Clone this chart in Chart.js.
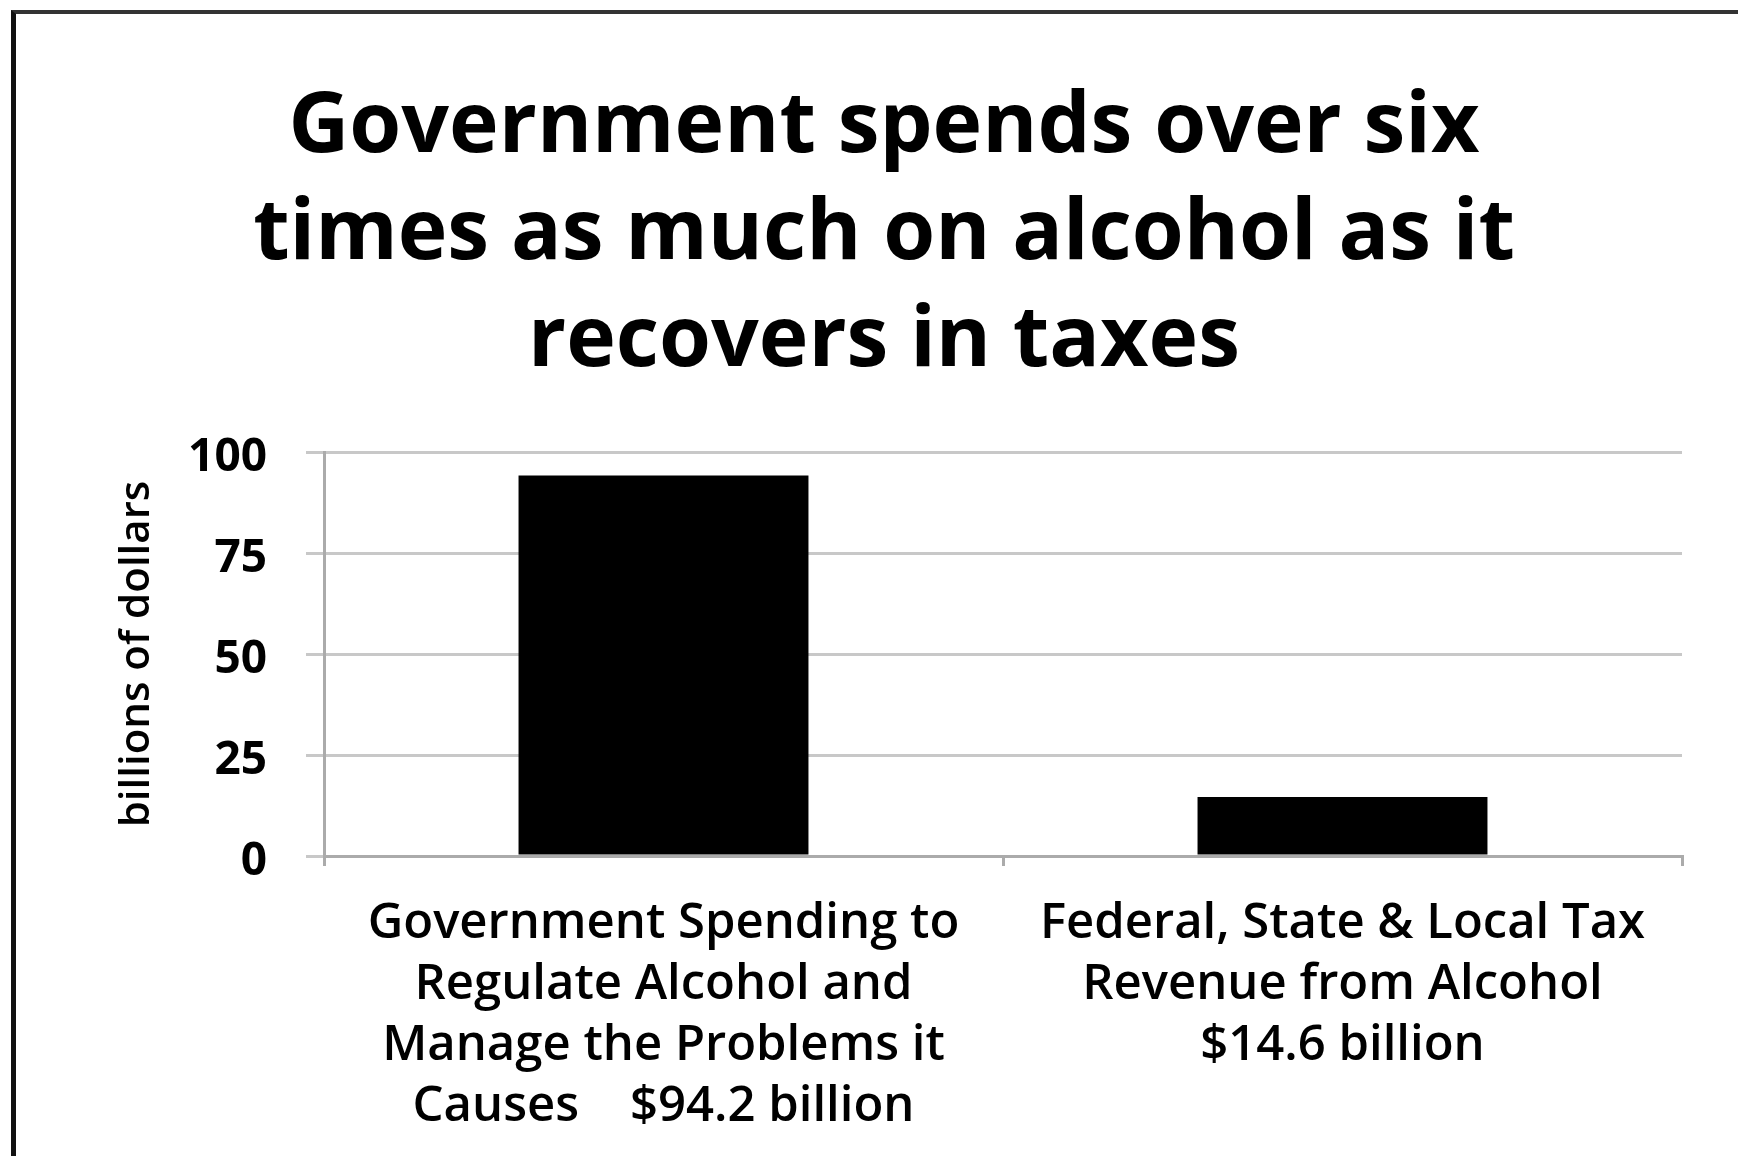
<!DOCTYPE html>
<html>
<head>
<meta charset="utf-8">
<script src="https://cdn.jsdelivr.net/npm/chart.js@4.4.1/dist/chart.umd.min.js"></script>
<style>
  html, body { margin: 0; padding: 0; background: #fff; overflow: hidden; }
  #frame { position: absolute; left: 11px; top: 10px; width: 1800px; height: 1200px; border-left: 5px solid #111; border-top: 4px solid #333; }
  #wrap { position: absolute; left: 16px; top: 14px; width: 1736px; height: 1142px; }
</style>
</head>
<body>
<div id="frame"></div>
<div id="wrap"><canvas id="chart"></canvas></div>
<script>
const titleLines = [
  "Government spends over six",
  "times as much on alcohol as it",
  "recovers in taxes",
];
const categories = [
  ["Government Spending to", "Regulate Alcohol and", "Manage the Problems it", "Causes    $94.2 billion"],
  ["Federal, State & Local Tax", "Revenue from Alcohol", "$14.6 billion"],
];
const amounts = [94.2, 14.6];
const yTicks = [0, 25, 50, 75, 100];
const yTitle = "billions of dollars";

const fontFamily = "'Open Sans', Lato, sans-serif";
const gridColor = "#c8c8c8";
const axisColor = "#ababab";

new Chart(document.getElementById("chart"), {
  type: "bar",
  data: {
    labels: categories,
    datasets: [
      {
        data: amounts,
        backgroundColor: "#000",
        borderWidth: 0,
        barPercentage: 0.427,
        categoryPercentage: 1,
      },
    ],
  },
  options: {
    responsive: true,
    maintainAspectRatio: false,
    animation: false,
    layout: { padding: { left: 70, right: 70, top: 0, bottom: 0 } },
    plugins: {
      legend: { display: false },
      tooltip: { enabled: false },
      title: {
        display: true,
        text: titleLines,
        color: "#000",
        font: { family: fontFamily, size: 84, weight: "bold", lineHeight: 1.27 },
        padding: { top: 61, bottom: 57 },
      },
    },
    scales: {
      x: {
        afterFit: (scale) => {
          scale.height = 300;
        },
        grid: {
          offset: true,
          drawOnChartArea: false,
          drawTicks: true,
          tickLength: 10,
          color: axisColor,
          lineWidth: 3,
        },
        border: { display: true, color: axisColor, width: 3 },
        ticks: {
          color: "#000",
          padding: 28,
          font: { family: fontFamily, size: 49, weight: 600, lineHeight: 1.245 },
        },
      },
      y: {
        min: yTicks[0],
        max: yTicks[yTicks.length - 1],
        afterFit: (scale) => {
          scale.width = 238;
        },
        afterBuildTicks: (scale) => {
          scale.ticks = yTicks.map((v) => ({ value: v }));
        },
        grid: {
          color: gridColor,
          lineWidth: 3,
          drawTicks: true,
          tickLength: 18,
        },
        border: { display: true, color: axisColor, width: 3 },
        ticks: {
          color: "#000",
          padding: 39,
          labelOffset: 6,
          font: { family: fontFamily, size: 46, weight: "bold" },
        },
        title: {
          display: true,
          text: yTitle,
          color: "#000",
          padding: 26,
          font: { family: fontFamily, size: 42, weight: 600, lineHeight: 1.2 },
        },
      },
    },
  },
});
</script>
</body>
</html>
